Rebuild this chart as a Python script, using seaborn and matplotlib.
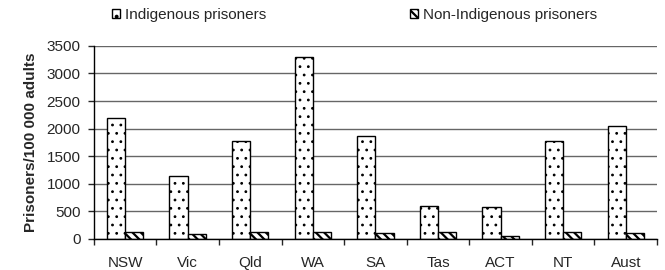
import pandas as pd
import matplotlib.pyplot as plt
import seaborn as sns
from matplotlib.patches import Patch
from matplotlib.ticker import FixedLocator

# values
states = ["NSW", "Vic", "Qld", "WA", "SA", "Tas", "ACT", "NT", "Aust"]
indigenous = [2195, 1150, 1775, 3300, 1860, 600, 580, 1775, 2040]
non_indigenous = [135, 90, 135, 135, 110, 130, 50, 135, 110]
series = ["Indigenous prisoners", "Non-Indigenous prisoners"]

df = pd.DataFrame({
    "state": states * 2,
    "rate": indigenous + non_indigenous,
    "group": [series[0]] * len(states) + [series[1]] * len(states),
})

sns.set_style("white")
plt.rcParams["font.family"] = ["Liberation Sans", "DejaVu Sans"]
plt.rcParams["hatch.linewidth"] = 1.6

fig = plt.figure(figsize=(6.65, 2.7), dpi=100)
ax = fig.add_axes([0.141, 0.115, 0.847, 0.715])

sns.barplot(data=df, x="state", y="rate", hue="group", order=states,
            hue_order=series, palette=["white", "white"], width=0.58,
            edgecolor="black", linewidth=1.0, ax=ax, legend=False,
            saturation=1)

hatches = ["..", "\\\\\\\\"]
hcolors = ["#555555", "black"]
hwidths = [0.8, 1.6]


def style_bar(bar, i):
    bar.set_hatch(hatches[i])
    bar.set_edgecolor("black")
    if hasattr(bar, "set_hatchcolor"):
        bar.set_hatchcolor(hcolors[i])
    if hasattr(bar, "set_hatch_linewidth"):
        bar.set_hatch_linewidth(hwidths[i])


for i, cont in enumerate(ax.containers):
    for bar in cont:
        style_bar(bar, i)

ax.set_ylim(0, 3500)
ax.set_yticks(range(0, 3501, 500))
ax.set_xlim(-0.5, len(states) - 0.5)
ax.yaxis.grid(True, color="#666666", linewidth=1.0)
ax.set_axisbelow(True)
for s in ["top", "right"]:
    ax.spines[s].set_visible(False)
for s in ["left", "bottom"]:
    ax.spines[s].set_color("black")
    ax.spines[s].set_linewidth(1.0)

ax.tick_params(axis="y", left=True, length=4.5, width=1, labelsize=11, pad=5)
ax.tick_params(axis="x", which="major", length=0, labelsize=11, pad=12)
ax.xaxis.set_minor_locator(FixedLocator([i - 0.5 for i in range(len(states) + 1)]))
ax.tick_params(axis="x", which="minor", bottom=True, length=4, width=1)

ax.set_xlabel("")
ax.set_ylabel("Prisoners/100 000 adults", fontsize=11, fontweight="bold",
              labelpad=6)

handles = []
for i in range(2):
    p = Patch(facecolor="white", edgecolor="black")
    style_bar(p, i)
    handles.append(p)
fig.legend(handles, series, loc="center left", bbox_to_anchor=(0.168, 0.944),
           ncol=2, frameon=False, fontsize=11, handlelength=0.55,
           handleheight=0.55, handletextpad=0.35, columnspacing=9.35,
           borderpad=0, borderaxespad=0)

fig.savefig("out.png", dpi=100)
